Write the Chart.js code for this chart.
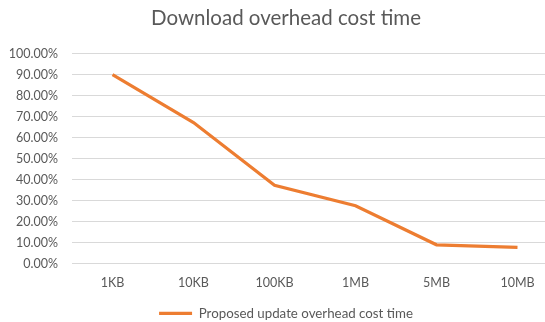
<!DOCTYPE html>
<html>
<head>
<meta charset="utf-8">
<script src="https://cdn.jsdelivr.net/npm/chart.js@4"></script>
<style>
  html, body { margin: 0; padding: 0; background: #fff; overflow: hidden; }
  #wrap { position: absolute; left: 0; top: 0; width: 572px; height: 322px; }
</style>
</head>
<body>
<div id="wrap"><canvas id="c" width="572" height="322"></canvas></div>
<script>
// File sizes along the x axis
const categories = ['1KB', '10KB', '100KB', '1MB', '5MB', '10MB'];
// Overhead cost time of the proposed update, in percent
const overheadCost = [90.0, 67.2, 37.3, 27.6, 9.0, 7.8];
const seriesName = 'Proposed update overhead cost time';
const chartTitle = 'Download overhead cost time';

const FONT = 'Lato, "Open Sans", "Liberation Sans", sans-serif';
const TEXT = '#595959';

new Chart(document.getElementById('c'), {
  type: 'line',
  data: {
    labels: categories,
    datasets: [{
      label: seriesName,
      data: overheadCost,
      borderColor: '#ED7D31',
      backgroundColor: '#ED7D31',
      borderWidth: 3.2,
      pointRadius: 0,
      pointHoverRadius: 0,
      tension: 0,
      fill: false
    }]
  },
  options: {
    responsive: false,
    animation: false,
    devicePixelRatio: 1,
    layout: { padding: { top: 0, left: 0, right: 0, bottom: -8 } },
    plugins: {
      title: {
        display: true,
        text: chartTitle,
        color: TEXT,
        font: { family: FONT, size: 20.5, weight: 'normal' },
        padding: { top: 6, bottom: 23 }
      },
      legend: {
        position: 'bottom',
        labels: {
          color: TEXT,
          font: { family: FONT, size: 13.3 },
          usePointStyle: true,
          pointStyle: 'line',
          pointStyleWidth: 33,
          padding: 1
        }
      },
      tooltip: { enabled: false }
    },
    scales: {
      x: {
        offset: true,
        grid: { display: false, drawTicks: false },
        border: { display: false },
        ticks: {
          color: TEXT,
          font: { family: FONT, size: 12.5 },
          padding: 12,
          maxRotation: 0
        },
        afterFit: s => { s.height = 42; }
      },
      y: {
        min: 0,
        max: 100,
        grid: { color: '#D9D9D9', lineWidth: 1, drawTicks: false },
        border: { display: false },
        ticks: {
          stepSize: 10,
          color: TEXT,
          font: { family: FONT, size: 12.5 },
          padding: 14,
          callback: v => v.toFixed(2) + '%'
        },
        afterFit: s => { s.width = 72; }
      },
      // blank margin strip on the right side of the plot
      gap: {
        position: 'right',
        display: true,
        grid: { display: false, drawTicks: false },
        border: { display: false },
        ticks: { display: false },
        afterFit: s => { s.width = 14; }
      }
    }
  }
});
</script>
</body>
</html>
